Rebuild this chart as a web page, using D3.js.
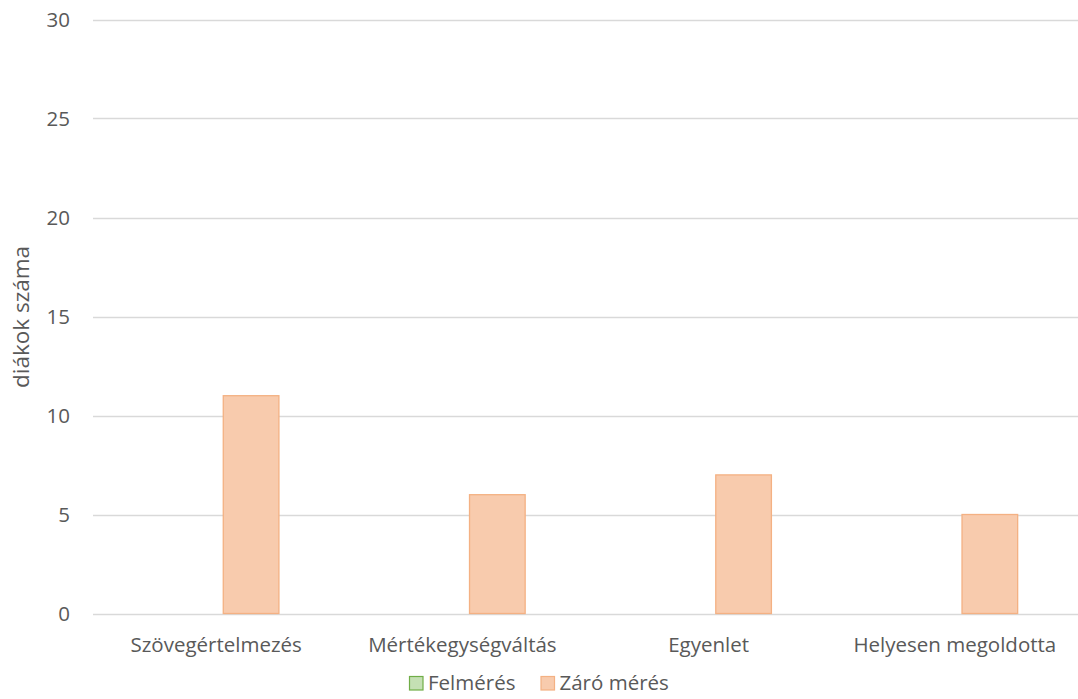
<!DOCTYPE html>
<html>
<head>
<meta charset="utf-8">
<script src="https://cdn.jsdelivr.net/npm/d3@7/dist/d3.min.js"></script>
<style>
  html, body { margin: 0; padding: 0; background: #fff; }
  svg { display: block; font-family: "Open Sans", "Noto Sans", sans-serif; }
</style>
</head>
<body>
<svg id="chart" width="1078" height="699"></svg>
<script>
// Categories and series
const categories = ["Szövegértelmezés", "Mértékegységváltás", "Egyenlet", "Helyesen megoldotta"];
const seriesNames = ["Felmérés", "Záró mérés"];
const felmeres = [0, 0, 0, 0];
const zaroMeres = [11, 6, 7, 5];
const yTicks = [0, 5, 10, 15, 20, 25, 30];
const yTitle = "diákok száma";

const seriesValues = [felmeres, zaroMeres];
const fills = ["#C5E0B4", "#F8CBAD"];
const strokes = ["#70AD47", "#F4B183"];
const FONT = 20.5;

const svg = d3.select("#chart");
const margin = { left: 93, right: 0 };
const W = 1078;

const x0 = d3.scaleBand().domain(categories).range([margin.left, W - margin.right]).paddingInner(0).paddingOuter(0);
const bw = x0.bandwidth();
const x1 = d3.scaleBand().domain(seriesNames).range([bw * 0.243, bw * 0.757]).paddingInner(0.19).paddingOuter(0);
const y = d3.scaleLinear().domain([0, 30]).range([613.5, 19.5]);

// gridlines
svg.append("g").selectAll("line").data(yTicks).join("line")
  .attr("x1", margin.left).attr("x2", W)
  .attr("y1", d => Math.round(y(d)) + 0.5).attr("y2", d => Math.round(y(d)) + 0.5)
  .attr("stroke", "#D9D9D9").attr("stroke-width", 1.3);

// y axis tick labels
const yAxis = d3.axisLeft(y).tickValues(yTicks).tickSize(0).tickPadding(0);
const gy = svg.append("g").attr("transform", "translate(70,0)").call(yAxis);
gy.attr("font-size", null).attr("font-family", null);
gy.select(".domain").remove();
gy.selectAll("text").attr("fill", "#595959").attr("font-size", FONT).attr("dy", "0.36em");

// y title
svg.append("text")
  .attr("transform", "translate(29,317) rotate(-90)")
  .attr("text-anchor", "middle")
  .attr("fill", "#595959").attr("font-size", 22.5)
  .text(yTitle);

// bars
const groups = svg.append("g").selectAll("g").data(categories).join("g")
  .attr("transform", d => `translate(${x0(d)},0)`);
groups.selectAll("rect")
  .data((c, i) => seriesNames.map((s, j) => ({ s, j, v: seriesValues[j][i] })))
  .join("rect")
  .filter(d => d.v > 0)
  .attr("x", d => x1(d.s) + 0.5)
  .attr("width", x1.bandwidth() - 1)
  .attr("y", d => y(d.v))
  .attr("height", d => y(0) - y(d.v))
  .attr("fill", d => fills[d.j])
  .attr("stroke", d => strokes[d.j])
  .attr("stroke-width", 1.3);

// x axis labels
const xAxis = d3.axisBottom(x0).tickSize(0).tickPadding(0);
const gx = svg.append("g").attr("transform", "translate(0,652)").call(xAxis);
gx.attr("font-size", null).attr("font-family", null);
gx.select(".domain").remove();
gx.selectAll("text").attr("fill", "#595959").attr("font-size", FONT).attr("y", 0).attr("dy", 0);

// legend
const legendX = [409, 540.5];
const leg = svg.append("g").selectAll("g").data(seriesNames).join("g")
  .attr("transform", (d, i) => `translate(${legendX[i]},676)`);
leg.append("rect").attr("x", 0.5).attr("y", 0.5).attr("width", 13.5).attr("height", 13.5)
  .attr("fill", (d, i) => fills[i]).attr("stroke", (d, i) => strokes[i]).attr("stroke-width", 1.2);
leg.append("text").attr("x", 19).attr("y", 14)
  .attr("fill", "#595959").attr("font-size", FONT)
  .text(d => d);
</script>
</body>
</html>
